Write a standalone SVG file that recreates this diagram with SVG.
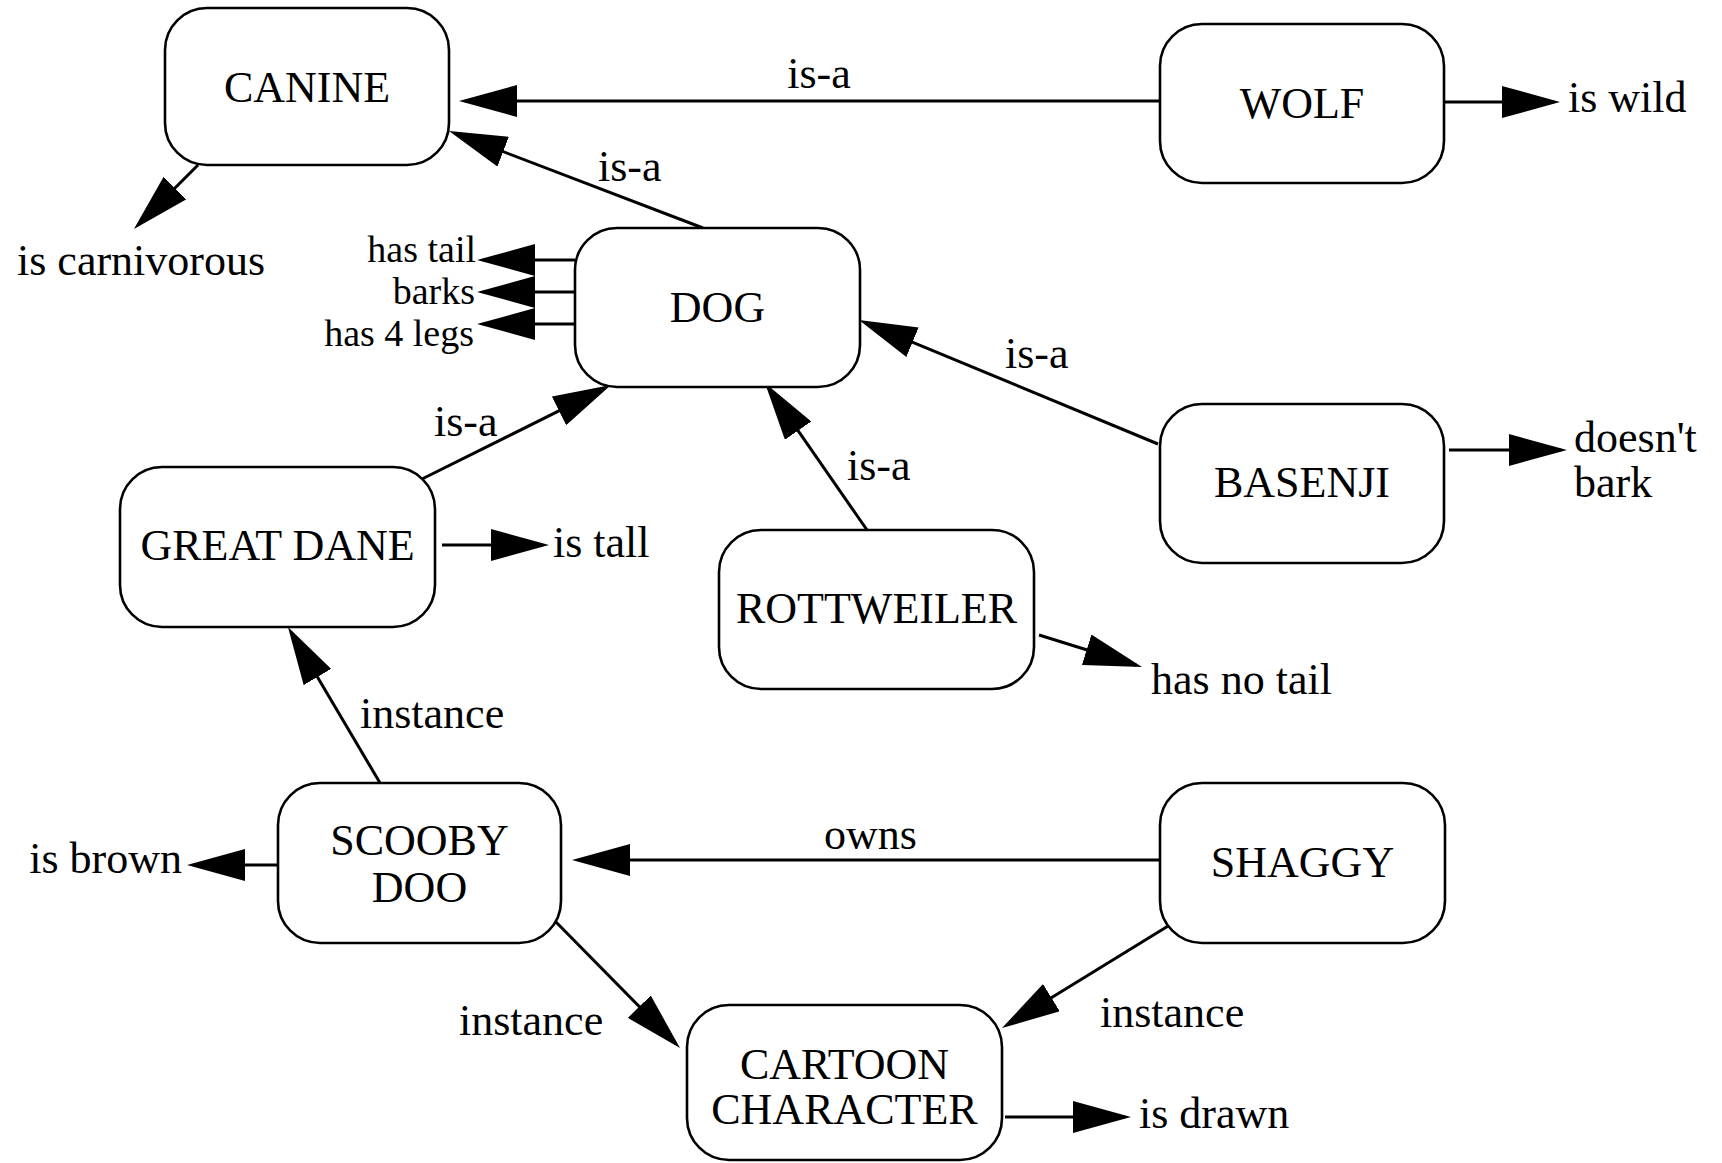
<svg xmlns="http://www.w3.org/2000/svg" width="1722" height="1163" viewBox="0 0 1722 1163">
<style>
  .box { fill: #ffffff; stroke: #000000; stroke-width: 2.6; }
  .lbl { font-family: "Liberation Serif", "Times New Roman", serif; font-size: 44px; fill: #000000; }
  .small { font-size: 38px; }
  .mid { text-anchor: middle; }
  .end { text-anchor: end; }
  .edge { fill: none; stroke: #000000; stroke-width: 3; marker-end: url(#arrow); }
</style>
<defs>
  <marker id="arrow" viewBox="0 0 58 32" markerWidth="58" markerHeight="32" refX="52" refY="16" orient="auto" markerUnits="userSpaceOnUse">
    <path d="M0,0 L58,16 L0,32 z" fill="#000000"/>
  </marker>
</defs>
<rect width="1722" height="1163" fill="#ffffff"/>

<g id="connectors">
  <path class="edge" d="M1160,101 L465,101"/>
  <path class="edge" d="M1444,102 L1554,102"/>
  <path class="edge" d="M703,228 L454.6,133.1"/>
  <path class="edge" d="M198,165 L138.2,224.8"/>
  <path class="edge" d="M575,260 L483,260"/>
  <path class="edge" d="M575,292 L483,292"/>
  <path class="edge" d="M575,324 L483,324"/>
  <path class="edge" d="M420,480 L605.6,387.7"/>
  <path class="edge" d="M442,545 L543,545"/>
  <path class="edge" d="M867,530 L768.4,387.9"/>
  <path class="edge" d="M1158,444 L864.5,322.3"/>
  <path class="edge" d="M1449,450 L1561,450"/>
  <path class="edge" d="M1039,635 L1136.3,665.2"/>
  <path class="edge" d="M383,788 L291,632.2"/>
  <path class="edge" d="M1160,860 L578,860"/>
  <path class="edge" d="M278,865 L193,865"/>
  <path class="edge" d="M554,920 L675.8,1043.7"/>
  <path class="edge" d="M1173,923 L1007.1,1024.9"/>
  <path class="edge" d="M1005,1117 L1125,1117"/>

  <text class="lbl mid" x="819" y="88">is-a</text>
  <text class="lbl" x="598" y="181">is-a</text>
  <text class="lbl" x="17" y="275">is carnivorous</text>
  <text class="lbl small end" x="476" y="262">has tail</text>
  <text class="lbl small end" x="475" y="304">barks</text>
  <text class="lbl small end" x="474" y="346">has 4 legs</text>
  <text class="lbl" x="434" y="436">is-a</text>
  <text class="lbl" x="553" y="557">is tall</text>
  <text class="lbl" x="847" y="480">is-a</text>
  <text class="lbl" x="1005" y="368">is-a</text>
  <text class="lbl" x="1574" y="452">doesn't</text>
  <text class="lbl" x="1574" y="497">bark</text>
  <text class="lbl" x="1151" y="694">has no tail</text>
  <text class="lbl" x="1568" y="112">is wild</text>
  <text class="lbl" x="360" y="728">instance</text>
  <text class="lbl" x="824" y="849">owns</text>
  <text class="lbl end" x="182" y="873">is brown</text>
  <text class="lbl" x="459" y="1035">instance</text>
  <text class="lbl" x="1100" y="1027">instance</text>
  <text class="lbl" x="1139" y="1128">is drawn</text>
</g>

<g id="canine">
  <rect class="box" x="165" y="8" width="284" height="157" rx="42" ry="42"/>
  <text class="lbl mid" x="307" y="102">CANINE</text>
</g>
<g id="wolf">
  <rect class="box" x="1160" y="24" width="284" height="159" rx="42" ry="42"/>
  <text class="lbl mid" x="1302" y="118">WOLF</text>
</g>
<g id="dog">
  <rect class="box" x="575" y="228" width="285" height="159" rx="42" ry="42"/>
  <text class="lbl mid" x="717.5" y="322">DOG</text>
</g>
<g id="great-dane">
  <rect class="box" x="120" y="467" width="315" height="160" rx="42" ry="42"/>
  <text class="lbl mid" x="277.5" y="560">GREAT DANE</text>
</g>
<g id="rottweiler">
  <rect class="box" x="719" y="530" width="315" height="159" rx="42" ry="42"/>
  <text class="lbl mid" x="876.5" y="623">ROTTWEILER</text>
</g>
<g id="basenji">
  <rect class="box" x="1160" y="404" width="284" height="159" rx="42" ry="42"/>
  <text class="lbl mid" x="1302" y="497">BASENJI</text>
</g>
<g id="scooby-doo">
  <rect class="box" x="278" y="783" width="283" height="160" rx="42" ry="42"/>
  <text class="lbl mid" x="419.5" y="855">SCOOBY</text>
  <text class="lbl mid" x="419.5" y="902">DOO</text>
</g>
<g id="shaggy">
  <rect class="box" x="1160" y="783" width="285" height="160" rx="42" ry="42"/>
  <text class="lbl mid" x="1302.5" y="877">SHAGGY</text>
</g>
<g id="cartoon-character">
  <rect class="box" x="687" y="1005" width="315" height="155" rx="42" ry="42"/>
  <text class="lbl mid" x="844.5" y="1079">CARTOON</text>
  <text class="lbl mid" x="844.5" y="1124">CHARACTER</text>
</g>
</svg>
